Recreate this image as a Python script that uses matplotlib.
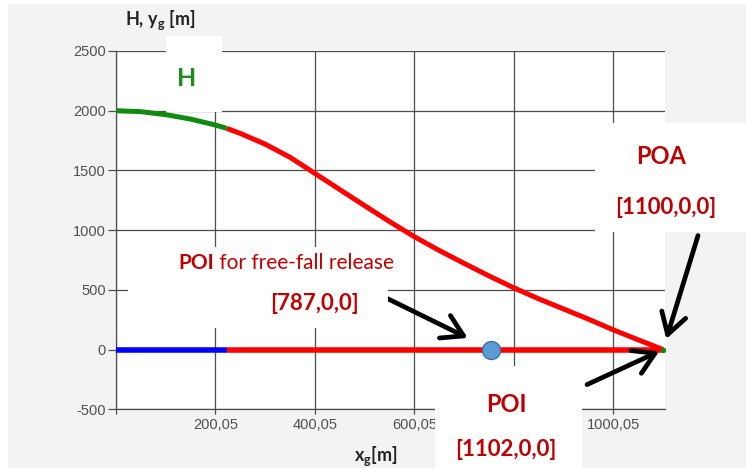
import matplotlib
matplotlib.use('Agg')
import matplotlib.pyplot as plt
from matplotlib.patches import Rectangle
from matplotlib import font_manager

# ---------------- data ----------------
curve_x = [0, 50, 100, 150, 200, 223, 250, 300, 350, 400, 450, 500, 550,
           600, 650, 700, 750, 800, 850, 900, 950, 1000, 1050, 1100]
curve_y = [2000, 1992, 1967, 1930, 1880, 1852, 1810, 1720, 1610, 1475, 1340,
           1205, 1072, 945, 830, 722, 617, 517, 425, 340, 255, 165, 82, 0]
green_end_x = 223          # end of green part of H curve
ground_x = [0, 224, 1100]  # blue part 0..224, red part 224..1100
ground_y = [0, 0, 0]
poi_ff_x = 755             # free-fall POI marker
poa_x = 1100
x_ticks = [0.05, 200.05, 400.05, 600.05, 800.05, 1000.05]
x_tick_labels = ['', '200,05', '400,05', '600,05', '', '1000,05']
y_ticks = [-500, 0, 500, 1000, 1500, 2000, 2500]
y_tick_labels = ['-500', '0', '500', '1000', '1500', '2000', '2500']

# ---------------- style ----------------
W, H = 746, 468
RED_TXT = '#c00000'
GRID = '#4d4d4d'
names = {f.name for f in font_manager.fontManager.ttflist}
txt_font = 'Lato' if 'Lato' in names else 'DejaVu Sans'
tick_font = 'Liberation Sans' if 'Liberation Sans' in names else 'DejaVu Sans'
plt.rcParams['mathtext.fontset'] = 'custom'
plt.rcParams['mathtext.rm'] = f'{txt_font}:bold'
plt.rcParams['mathtext.it'] = f'{txt_font}:bold'
plt.rcParams['mathtext.bf'] = f'{txt_font}:bold'

fig = plt.figure(figsize=(W / 100, H / 100), dpi=100)
fig.patch.set_facecolor('white')

def fx(px):
    return px / W

def fy(py):
    return 1 - py / H

# gray screenshot background
fig.patches.append(Rectangle((fx(8), 0), 1 - fx(8), fy(4), transform=fig.transFigure,
                             facecolor='#f3f3f3', edgecolor='none', zorder=-1))

ax = fig.add_axes([fx(116), fy(409.3), (665 - 116) / W, (409.3 - 51) / H])
ax.set_facecolor('white')
ax.set_xlim(0.05, 1104)
ax.set_ylim(-500, 2500)
ax.set_xticks(x_ticks)
ax.set_xticklabels(x_tick_labels)
ax.set_yticks(y_ticks)
ax.set_yticklabels(y_tick_labels)
ax.grid(True, color=GRID, lw=0.9)
ax.set_axisbelow(True)
for s in ['top', 'right']:
    ax.spines[s].set_visible(False)
for s in ['left', 'bottom']:
    ax.spines[s].set_color(GRID)
    ax.spines[s].set_linewidth(0.9)
ax.tick_params(axis='y', direction='out', length=5.8, width=0.9, color=GRID, pad=1.5,
               labelsize=10.5, labelcolor='#505050')
ax.tick_params(axis='x', direction='out', length=3.6, width=0.9, color=GRID, pad=3,
               labelsize=10.5, labelcolor='#505050')
for lab in ax.get_xticklabels() + ax.get_yticklabels():
    lab.set_fontfamily(tick_font)

# H curve
gx = [x for x in curve_x if x <= green_end_x]
gy = curve_y[:len(gx)]
rx = [x for x in curve_x if x >= green_end_x]
ry = curve_y[len(curve_x) - len(rx):]
ax.plot(rx, ry, color='#ff0000', lw=3.6, solid_capstyle='butt', solid_joinstyle='round', zorder=3)
ax.plot(gx, gy, color='#108a10', lw=3.6, solid_capstyle='butt', solid_joinstyle='round', zorder=3)
# ground line
ax.plot(ground_x[1:], ground_y[1:], color='#ff0000', lw=4, solid_capstyle='butt', zorder=3)
ax.plot(ground_x[:2], ground_y[:2], color='#0000ff', lw=4, solid_capstyle='butt', zorder=3)
# markers
ax.plot([poi_ff_x], [0], 'o', ms=13, mfc='#5b9bd5', mec='#41719c', mew=1, zorder=4)
ax.plot([poa_x], [0], 'o', ms=4, mfc='#108a10', mec='none', zorder=5)

# white overlay boxes
boxes = [(166, 36, 222, 112), (128, 247, 388, 328), (595, 123, 746, 232), (435, 366, 582, 468)]
for x0, y0, x1, y1 in boxes:
    fig.patches.append(Rectangle((fx(x0), fy(y1)), (x1 - x0) / W, (y1 - y0) / H,
                                 transform=fig.transFigure, facecolor='white',
                                 edgecolor='none', zorder=1))

# texts
def ftext(px, py, s, **kw):
    kw.setdefault('family', txt_font)
    return fig.text(fx(px), fy(py), s, ha='center', va='center', zorder=3, **kw)

ftext(187, 78, 'H', color='#1e8c1e', fontsize=18, fontweight='bold')
ftext(661, 157, 'POA', color=RED_TXT, fontsize=17, fontweight='bold')
ftext(666, 208, '[1100,0,0]', color=RED_TXT, fontsize=16, fontweight='bold')
ftext(506, 405, 'POI', color=RED_TXT, fontsize=17, fontweight='bold')
ftext(506, 449, '[1102,0,0]', color=RED_TXT, fontsize=16, fontweight='bold')
ftext(315, 304, '[787,0,0]', color=RED_TXT, fontsize=16, fontweight='bold')
ftext(160, 20, r'H, y$_\mathrm{g}$ [m]', color='#222222', fontsize=13, fontweight='bold')
ftext(376, 456, r'x$_\mathrm{g}$[m]', color='#222222', fontsize=13, fontweight='bold')

t1 = fig.text(fx(178), fy(263), 'POI', color=RED_TXT, fontsize=15, fontweight='bold',
              family=txt_font, ha='left', va='center', zorder=3)
fig.canvas.draw()
bb = t1.get_window_extent()
fig.text(bb.x1 / W, fy(263), ' for free-fall release', color=RED_TXT, fontsize=15,
         family=txt_font, ha='left', va='center', zorder=3)

# arrows
aprops = dict(arrowstyle='->, head_length=0.75, head_width=0.45', color='black', lw=3.4,
              mutation_scale=20, shrinkA=0)
ax.annotate('', xy=(poi_ff_x, 0), xytext=(-104, 51), textcoords='offset pixels',
            arrowprops=dict(aprops, shrinkB=19), zorder=6, annotation_clip=False)
ax.annotate('', xy=(poa_x, 0), xytext=(35, 114), textcoords='offset pixels',
            arrowprops=dict(aprops, shrinkB=8), zorder=6, annotation_clip=False)
ax.annotate('', xy=(poa_x, 0), xytext=(-76, -35), textcoords='offset pixels',
            arrowprops=dict(aprops, shrinkB=3), zorder=6, annotation_clip=False)

fig.savefig('out.png', dpi=100, facecolor=fig.get_facecolor())
